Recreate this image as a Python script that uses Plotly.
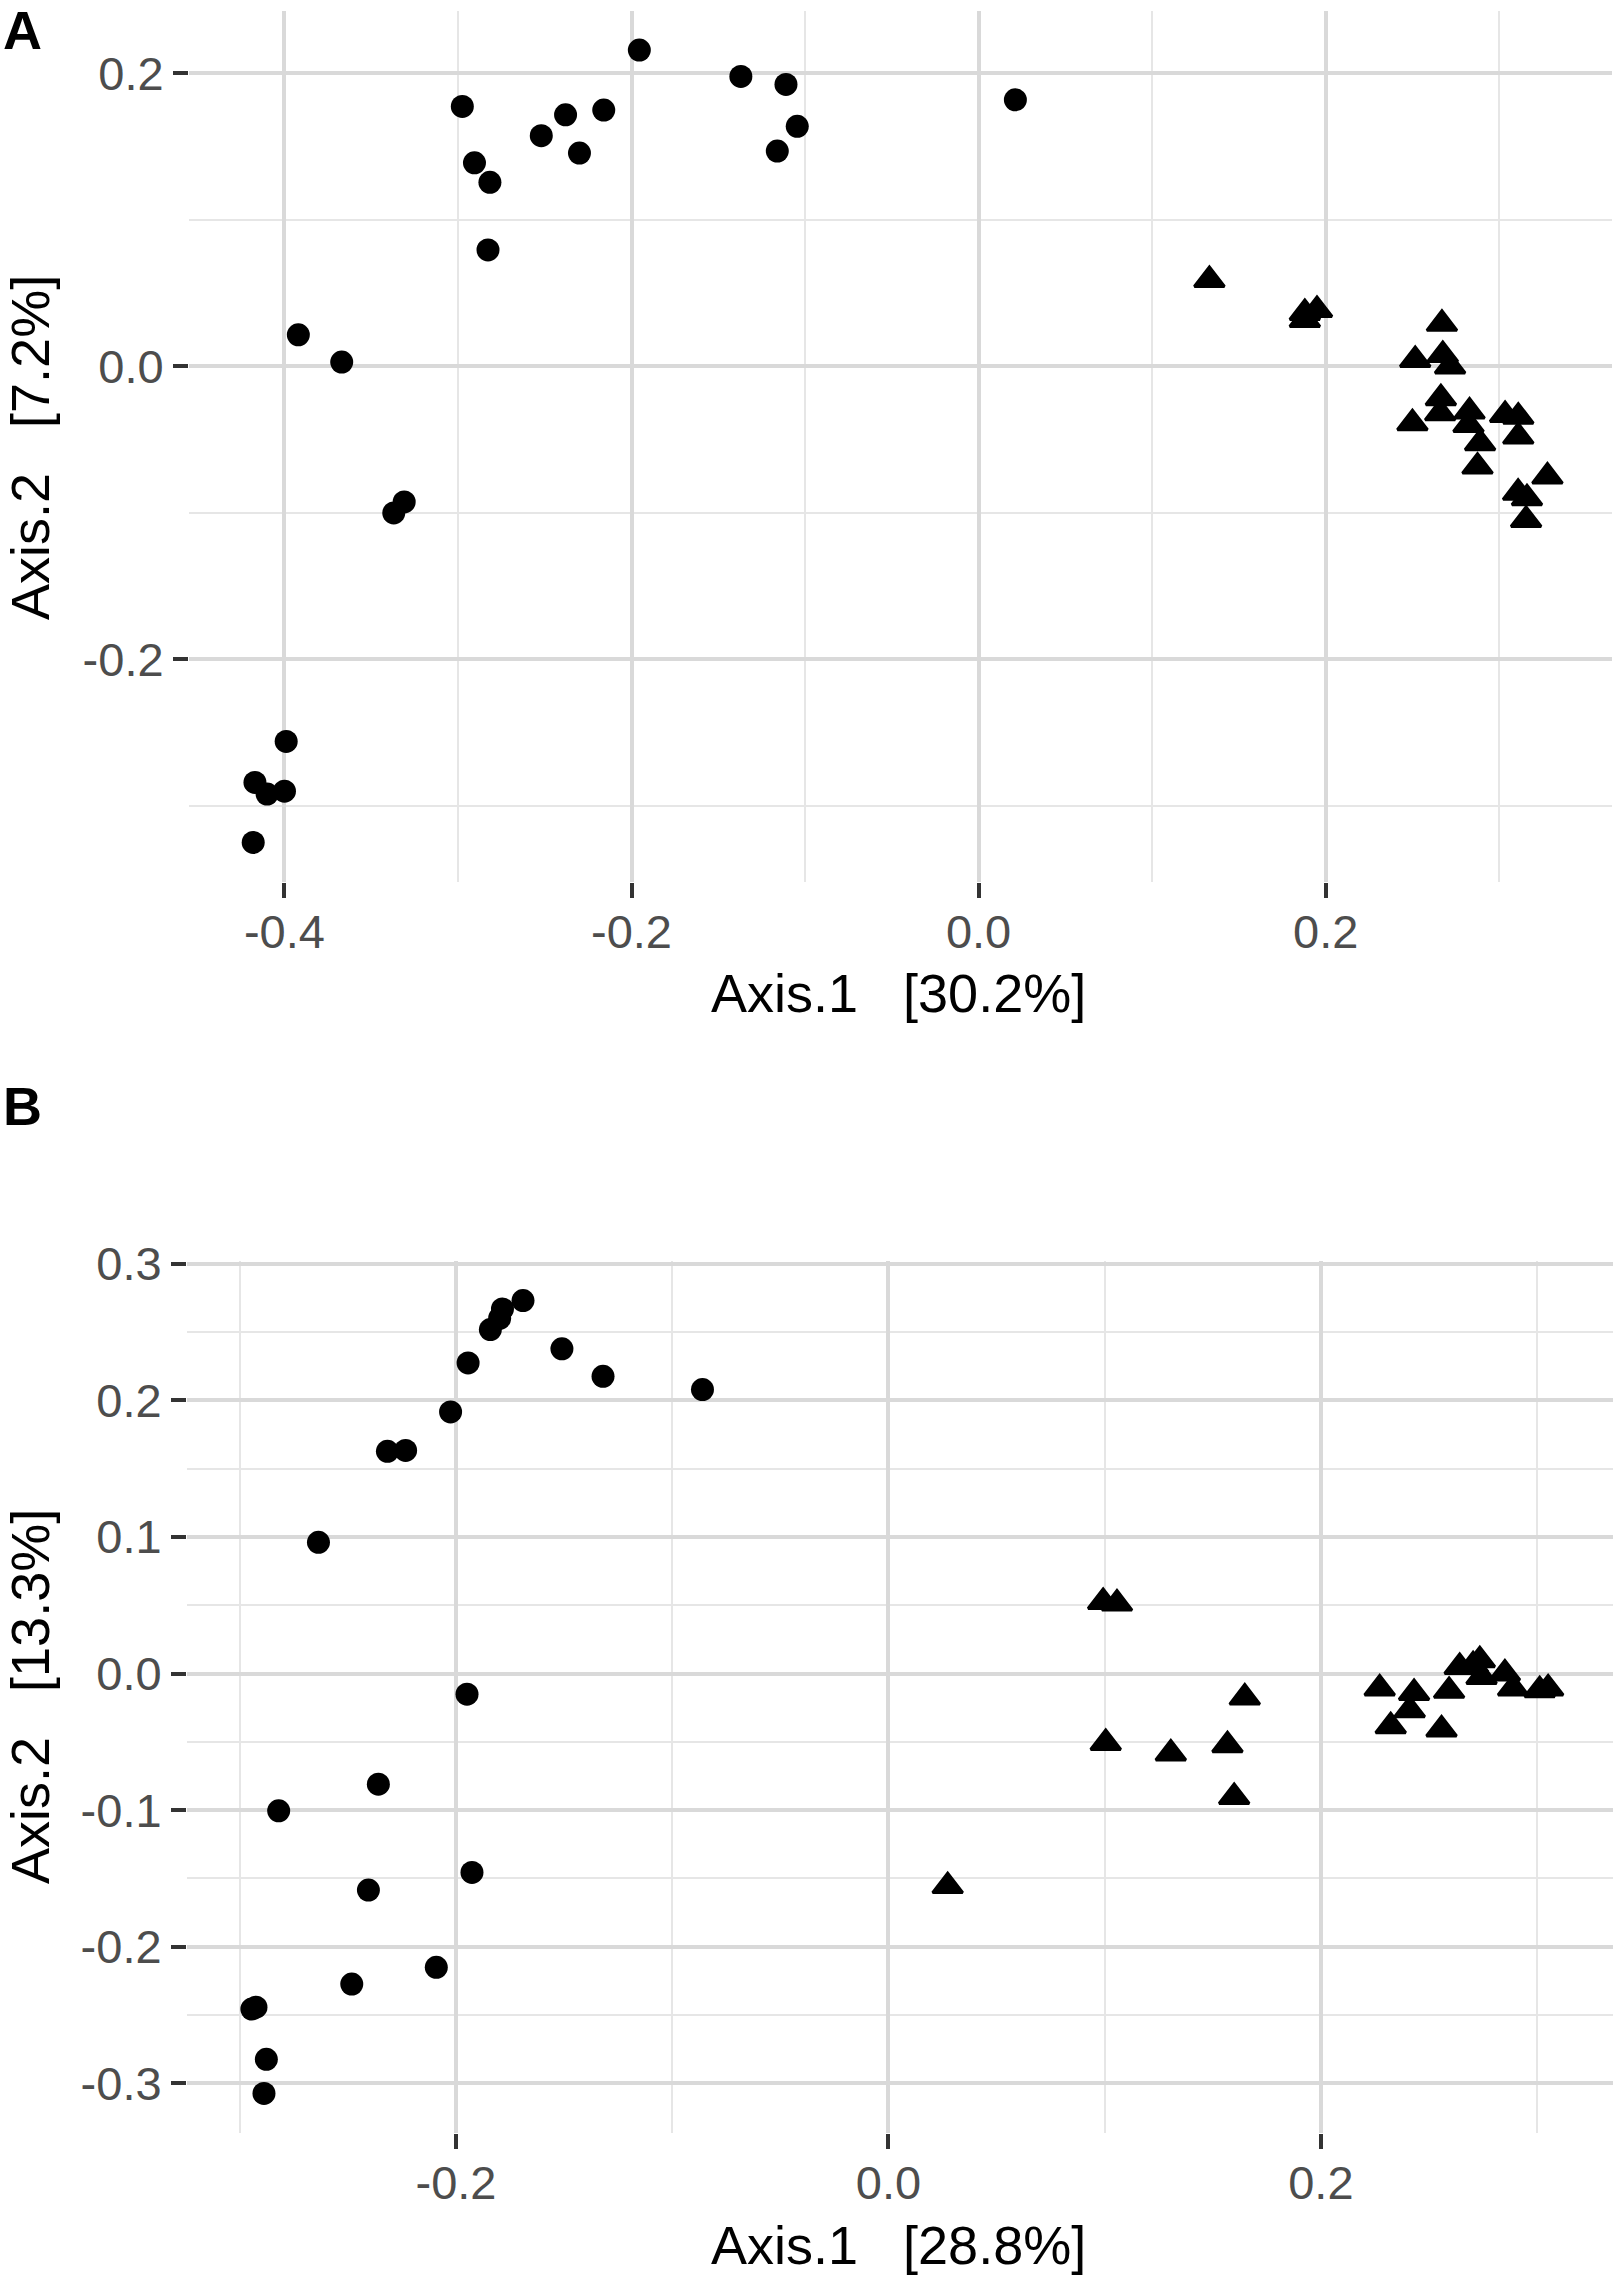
"""Two PCoA ordination panels (A, B) drawn with Plotly."""
import plotly.graph_objects as go

# ---- panel A: points ----
a_circle_x = [-0.392, -0.367, -0.2975, -0.2905, -0.2816, -0.2827, -0.252, -0.238,
              -0.230, -0.216, -0.1955, -0.137, -0.111, -0.1045, -0.116, 0.0212,
              -0.337, -0.331, -0.399, -0.417, -0.410, -0.400, -0.418]
a_circle_y = [0.0216, 0.003, 0.1775, 0.139, 0.1257, 0.0795, 0.1575, 0.1718,
              0.1457, 0.175, 0.216, 0.198, 0.1925, 0.1639, 0.147, 0.182,
              -0.100, -0.0925, -0.256, -0.284, -0.292, -0.290, -0.325]
a_tri_x = [0.133, 0.188, 0.195, 0.188, 0.267, 0.2516, 0.2675, 0.2717, 0.2664,
           0.266, 0.250, 0.2829, 0.2823, 0.289, 0.2875, 0.3034, 0.311, 0.311,
           0.3278, 0.3109, 0.316, 0.3155]
a_tri_y = [0.059, 0.0365, 0.0386, 0.0317, 0.0291, 0.0044, 0.0078, 0.0, -0.0217,
           -0.032, -0.0388, -0.0308, -0.040, -0.0524, -0.0684, -0.0331, -0.0343,
           -0.0479, -0.0752, -0.0863, -0.090, -0.1048]

# ---- panel B ----
b_circle_x = [-0.169, -0.1785, -0.1798, -0.1841, -0.1944, -0.151, -0.132, -0.086,
              -0.2025, -0.2317, -0.2233, -0.2636, -0.1949, -0.2359, -0.2820,
              -0.1926, -0.2405, -0.2091, -0.2482, -0.2944, -0.2925, -0.2877, -0.2888]
b_circle_y = [0.2729, 0.2668, 0.260, 0.2517, 0.2273, 0.2376, 0.2175, 0.2078,
              0.1914, 0.1626, 0.1633, 0.096, -0.0151, -0.081, -0.1005,
              -0.1456, -0.1585, -0.215, -0.2273, -0.2456, -0.2442, -0.2824, -0.3073]
b_tri_x = [0.0993, 0.1057, 0.1005, 0.1306, 0.1568, 0.1648, 0.1599, 0.2272, 0.2431,
           0.2411, 0.2323, 0.2593, 0.2558, 0.2642, 0.2704, 0.2735, 0.2743, 0.2851,
           0.2889, 0.3012, 0.3051, 0.0274]
b_tri_y = [0.0524, 0.0512, -0.0508, -0.0585, -0.0525, -0.0176, -0.0903, -0.011,
           -0.0142, -0.0269, -0.0386, -0.0127, -0.041, 0.0048, 0.006, 0.0097,
           -0.0025, 0.0, -0.011, -0.0122, -0.011, -0.1556]

# ---- ticks and titles ----
a_xticks = [-0.4, -0.2, 0.0, 0.2]
a_xlabels = ["-0.4", "-0.2", "0.0", "0.2"]
a_xminor = [-0.3, -0.1, 0.1, 0.3]
a_yticks = [-0.2, 0.0, 0.2]
a_ylabels = ["-0.2", "0.0", "0.2"]
a_yminor = [-0.3, -0.1, 0.1]
b_xticks = [-0.2, 0.0, 0.2]
b_xlabels = ["-0.2", "0.0", "0.2"]
b_xminor = [-0.3, -0.1, 0.1, 0.3]
b_yticks = [-0.3, -0.2, -0.1, 0.0, 0.1, 0.2, 0.3]
b_ylabels = ["-0.3", "-0.2", "-0.1", "0.0", "0.1", "0.2", "0.3"]
b_yminor = [-0.25, -0.15, -0.05, 0.05, 0.15, 0.25]

NB = "\u00a0"
a_xtitle = "Axis.1" + NB * 3 + "[30.2%]"
a_ytitle = "Axis.2" + NB * 3 + "[7.2%]"
b_xtitle = "Axis.1" + NB * 3 + "[28.8%]"
b_ytitle = "Axis.2" + NB * 3 + "[13.3%]"

W, H = 1614, 2279
FONT = "Liberation Sans, Arial, sans-serif"
TICK_SIZE = 47
TITLE_SIZE = 54
CIRCLE = dict(symbol="circle", size=23, color="black")
TRIANGLE = dict(symbol="triangle-up", size=26, color="black",
                line=dict(width=3, color="black"))


def fx(px):
    return px / W


def fy(px):
    return 1 - px / H


fig = go.Figure()
for xs, ys, mk, ax in [
    (a_circle_x, a_circle_y, CIRCLE, ("x", "y")),
    (a_tri_x, a_tri_y, TRIANGLE, ("x", "y")),
    (b_circle_x, b_circle_y, CIRCLE, ("x2", "y2")),
    (b_tri_x, b_tri_y, TRIANGLE, ("x2", "y2")),
]:
    fig.add_trace(go.Scatter(x=xs, y=ys, mode="markers", marker=mk,
                             xaxis=ax[0], yaxis=ax[1], showlegend=False,
                             cliponaxis=False))


def axis(domain, rng, ticks, labels, minor, anchor, standoff):
    return dict(
        domain=domain, range=rng, anchor=anchor,
        tickmode="array", tickvals=ticks, ticktext=labels,
        ticks="outside", ticklen=15, tickwidth=4, tickcolor="#333333",
        ticklabelstandoff=standoff,
        tickfont=dict(family=FONT, size=TICK_SIZE, color="#4D4D4D"),
        showgrid=True, gridcolor="#D9D9D9", gridwidth=3.5,
        minor=dict(tickvals=minor, showgrid=True, gridcolor="#E6E6E6",
                   gridwidth=2, ticks=""),
        zeroline=False, showline=False, automargin=False,
    )


fig.update_layout(
    width=W, height=H,
    margin=dict(l=0, r=0, t=0, b=0),
    paper_bgcolor="white", plot_bgcolor="white",
    font=dict(family=FONT),
    xaxis=axis([fx(189), fx(1612)], [-0.455, 0.365], a_xticks, a_xlabels, a_xminor, "y", -6),
    yaxis=axis([fy(882), fy(10.5)], [-0.352, 0.243], a_yticks, a_ylabels, a_yminor, "x", 0),
    xaxis2=axis([fx(187), fx(1613)], [-0.3244, 0.3351], b_xticks, b_xlabels, b_xminor, "y2", -6),
    yaxis2=axis([fy(2133), fy(1261)], [-0.3363, 0.3019], b_yticks, b_ylabels, b_yminor, "x2", 0),
)

notes = [
    ("A", 1, 30, 0, True),
    ("B", 1, 1106, 0, True),
    (a_xtitle, 898, 993, 0, False),
    (a_ytitle, 30, 448, -90, False),
    (b_xtitle, 898, 2245, 0, False),
    (b_ytitle, 30, 1697, -90, False),
]
for text, px, py, angle, bold in notes:
    fig.add_annotation(
        text=f"<b>{text}</b>" if bold else text,
        x=fx(px), y=fy(py), xref="paper", yref="paper",
        xanchor="left" if bold else "center", yanchor="middle",
        textangle=angle, showarrow=False,
        font=dict(family=FONT, size=54 if bold else TITLE_SIZE, color="black"),
    )

# the page's default 8px body margin would shift the whole figure
fig.write_html("out.html", config={"displayModeBar": False},
               post_script="document.body.style.margin = '0';")
